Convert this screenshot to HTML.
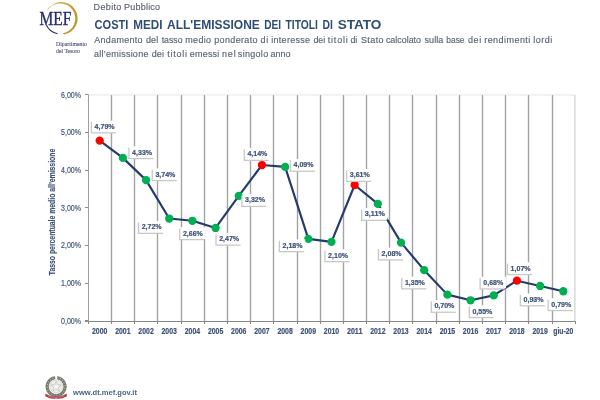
<!DOCTYPE html>
<html><head><meta charset="utf-8"><style>
html,body{margin:0;padding:0;background:#fff;width:600px;height:400px;overflow:hidden}
svg{display:block}
</style></head><body>
<svg width="600" height="400" viewBox="0 0 600 400">
<defs><filter id="bl" x="-20%" y="-20%" width="140%" height="140%"><feGaussianBlur stdDeviation="0.6"/></filter></defs>
<rect width="600" height="400" fill="#FFFFFF"/>
<g id="logo">
  <defs><linearGradient id="gg" x1="0" y1="0" x2="1" y2="1"><stop offset="0" stop-color="#D9C27A"/><stop offset="0.5" stop-color="#C39A2A"/><stop offset="1" stop-color="#B8922E"/></linearGradient></defs>
  <path d="M47.29 9.71 A16.4 16.4 0 1 1 64.05 34.55 L62.82 33.37 A15.1 15.1 0 1 0 47.39 10.50 Z" fill="url(#gg)"/>
  <path d="M46.15 24.53 A15.7 15.7 0 0 0 57.60 33.81" fill="none" stroke="#2C3170" stroke-width="1.1"/>
  <text x="39.6" y="24.8" font-family="Liberation Serif, serif" font-size="18.4" fill="#262C6E" stroke="#262C6E" stroke-width="0.35" textLength="31.8" lengthAdjust="spacingAndGlyphs">MEF</text>
  <text x="56" y="46.3" font-family="Liberation Serif, serif" font-size="5.4" fill="#4F5680" stroke="#4F5680" stroke-width="0.12" textLength="31" lengthAdjust="spacingAndGlyphs">Dipartimento</text>
  <text x="56" y="53.3" font-family="Liberation Serif, serif" font-size="5.4" fill="#4F5680" stroke="#4F5680" stroke-width="0.12" textLength="24" lengthAdjust="spacingAndGlyphs">del Tesoro</text>
</g>
<text x="93.56" y="10" font-family="Liberation Sans, sans-serif" font-size="9" fill="#5E6373" stroke="#5E6373" stroke-width="0.15" textLength="27.82" lengthAdjust="spacing">Debito</text>
<text x="124.06" y="10" font-family="Liberation Sans, sans-serif" font-size="9" fill="#5E6373" stroke="#5E6373" stroke-width="0.15" textLength="36.02" lengthAdjust="spacing">Pubblico</text>
<text x="94.55" y="28.5" font-family="Liberation Sans, sans-serif" font-weight="bold" font-size="12.4" fill="#2F4C76"  textLength="33.90" lengthAdjust="spacingAndGlyphs">COSTI</text>
<text x="133.22" y="28.5" font-family="Liberation Sans, sans-serif" font-weight="bold" font-size="12.4" fill="#2F4C76"  textLength="29.27" lengthAdjust="spacingAndGlyphs">MEDI</text>
<text x="167.00" y="28.5" font-family="Liberation Sans, sans-serif" font-weight="bold" font-size="12.4" fill="#2F4C76"  textLength="92.87" lengthAdjust="spacingAndGlyphs">ALL'EMISSIONE</text>
<text x="264.32" y="28.5" font-family="Liberation Sans, sans-serif" font-weight="bold" font-size="12.4" fill="#2F4C76"  textLength="16.85" lengthAdjust="spacingAndGlyphs">DEI</text>
<text x="285.48" y="28.5" font-family="Liberation Sans, sans-serif" font-weight="bold" font-size="12.4" fill="#2F4C76"  textLength="32.50" lengthAdjust="spacingAndGlyphs">TITOLI</text>
<text x="322.50" y="28.5" font-family="Liberation Sans, sans-serif" font-weight="bold" font-size="12.4" fill="#2F4C76"  textLength="10.39" lengthAdjust="spacingAndGlyphs">DI</text>
<text x="337.73" y="28.5" font-family="Liberation Sans, sans-serif" font-weight="bold" font-size="12.4" fill="#2F4C76"  textLength="43.71" lengthAdjust="spacingAndGlyphs">STATO</text>
<text x="94.28" y="42.9" font-family="Liberation Sans, sans-serif" font-size="9" fill="#5A6478" stroke="#5A6478" stroke-width="0.15" textLength="48.30" lengthAdjust="spacing">Andamento</text>
<text x="145.92" y="42.9" font-family="Liberation Sans, sans-serif" font-size="9" fill="#5A6478" stroke="#5A6478" stroke-width="0.15" textLength="12.38" lengthAdjust="spacing">del</text>
<text x="161.67" y="42.9" font-family="Liberation Sans, sans-serif" font-size="9" fill="#5A6478" stroke="#5A6478" stroke-width="0.15" textLength="20.90" lengthAdjust="spacingAndGlyphs">tasso</text>
<text x="185.20" y="42.9" font-family="Liberation Sans, sans-serif" font-size="9" fill="#5A6478" stroke="#5A6478" stroke-width="0.15" textLength="25.88" lengthAdjust="spacing">medio</text>
<text x="214.22" y="42.9" font-family="Liberation Sans, sans-serif" font-size="9" fill="#5A6478" stroke="#5A6478" stroke-width="0.15" textLength="43.36" lengthAdjust="spacing">ponderato</text>
<text x="260.42" y="42.9" font-family="Liberation Sans, sans-serif" font-size="9" fill="#5A6478" stroke="#5A6478" stroke-width="0.15" textLength="7.88" lengthAdjust="spacing">di</text>
<text x="271.20" y="42.9" font-family="Liberation Sans, sans-serif" font-size="9" fill="#5A6478" stroke="#5A6478" stroke-width="0.15" textLength="38.90" lengthAdjust="spacing">interesse</text>
<text x="313.43" y="42.9" font-family="Liberation Sans, sans-serif" font-size="9" fill="#5A6478" stroke="#5A6478" stroke-width="0.15" textLength="11.87" lengthAdjust="spacingAndGlyphs">dei</text>
<text x="327.66" y="42.9" font-family="Liberation Sans, sans-serif" font-size="9" fill="#5A6478" stroke="#5A6478" stroke-width="0.15" textLength="20.14" lengthAdjust="spacing">titoli</text>
<text x="350.43" y="42.9" font-family="Liberation Sans, sans-serif" font-size="9" fill="#5A6478" stroke="#5A6478" stroke-width="0.15" textLength="6.86" lengthAdjust="spacingAndGlyphs">di</text>
<text x="360.89" y="42.9" font-family="Liberation Sans, sans-serif" font-size="9" fill="#5A6478" stroke="#5A6478" stroke-width="0.15" textLength="22.69" lengthAdjust="spacing">Stato</text>
<text x="385.92" y="42.9" font-family="Liberation Sans, sans-serif" font-size="9" fill="#5A6478" stroke="#5A6478" stroke-width="0.15" textLength="35.15" lengthAdjust="spacingAndGlyphs">calcolato</text>
<text x="424.55" y="42.9" font-family="Liberation Sans, sans-serif" font-size="9" fill="#5A6478" stroke="#5A6478" stroke-width="0.15" textLength="18.65" lengthAdjust="spacing">sulla</text>
<text x="446.26" y="42.9" font-family="Liberation Sans, sans-serif" font-size="9" fill="#5A6478" stroke="#5A6478" stroke-width="0.15" textLength="18.32" lengthAdjust="spacingAndGlyphs">base</text>
<text x="467.92" y="42.9" font-family="Liberation Sans, sans-serif" font-size="9" fill="#5A6478" stroke="#5A6478" stroke-width="0.15" textLength="13.38" lengthAdjust="spacing">dei</text>
<text x="484.20" y="42.9" font-family="Liberation Sans, sans-serif" font-size="9" fill="#5A6478" stroke="#5A6478" stroke-width="0.15" textLength="46.10" lengthAdjust="spacing">rendimenti</text>
<text x="533.19" y="42.9" font-family="Liberation Sans, sans-serif" font-size="9" fill="#5A6478" stroke="#5A6478" stroke-width="0.15" textLength="19.11" lengthAdjust="spacing">lordi</text>
<text x="93.92" y="56.5" font-family="Liberation Sans, sans-serif" font-size="9" fill="#5A6478" stroke="#5A6478" stroke-width="0.15" textLength="54.48" lengthAdjust="spacing">all’emissione</text>
<text x="151.82" y="56.5" font-family="Liberation Sans, sans-serif" font-size="9" fill="#5A6478" stroke="#5A6478" stroke-width="0.15" textLength="12.08" lengthAdjust="spacing">dei</text>
<text x="167.36" y="56.5" font-family="Liberation Sans, sans-serif" font-size="9" fill="#5A6478" stroke="#5A6478" stroke-width="0.15" textLength="19.64" lengthAdjust="spacing">titoli</text>
<text x="189.82" y="56.5" font-family="Liberation Sans, sans-serif" font-size="9" fill="#5A6478" stroke="#5A6478" stroke-width="0.15" textLength="29.49" lengthAdjust="spacing">emessi</text>
<text x="222.00" y="56.5" font-family="Liberation Sans, sans-serif" font-size="9" fill="#5A6478" stroke="#5A6478" stroke-width="0.15" textLength="13.70" lengthAdjust="spacing">nel</text>
<text x="237.85" y="56.5" font-family="Liberation Sans, sans-serif" font-size="9" fill="#5A6478" stroke="#5A6478" stroke-width="0.15" textLength="30.33" lengthAdjust="spacing">singolo</text>
<text x="270.42" y="56.5" font-family="Liberation Sans, sans-serif" font-size="9" fill="#5A6478" stroke="#5A6478" stroke-width="0.15" textLength="20.16" lengthAdjust="spacing">anno</text>
<line x1="88.1" y1="94.98" x2="574.88" y2="94.98" stroke="#E6E6E6" stroke-width="1"/>
<line x1="574.88" y1="94.98" x2="574.88" y2="321.0" stroke="#D0D0D0" stroke-width="1.2"/>
<line x1="111.50" y1="94.98" x2="111.50" y2="321.0" stroke="#EDEDED" stroke-width="3"/>
<line x1="111.50" y1="94.98" x2="111.50" y2="321.0" stroke="#A3A3A3" stroke-width="1"/>
<line x1="134.50" y1="94.98" x2="134.50" y2="321.0" stroke="#EDEDED" stroke-width="3"/>
<line x1="134.50" y1="94.98" x2="134.50" y2="321.0" stroke="#A3A3A3" stroke-width="1"/>
<line x1="157.50" y1="94.98" x2="157.50" y2="321.0" stroke="#EDEDED" stroke-width="3"/>
<line x1="157.50" y1="94.98" x2="157.50" y2="321.0" stroke="#A3A3A3" stroke-width="1"/>
<line x1="181.50" y1="94.98" x2="181.50" y2="321.0" stroke="#EDEDED" stroke-width="3"/>
<line x1="181.50" y1="94.98" x2="181.50" y2="321.0" stroke="#A3A3A3" stroke-width="1"/>
<line x1="204.50" y1="94.98" x2="204.50" y2="321.0" stroke="#EDEDED" stroke-width="3"/>
<line x1="204.50" y1="94.98" x2="204.50" y2="321.0" stroke="#A3A3A3" stroke-width="1"/>
<line x1="227.50" y1="94.98" x2="227.50" y2="321.0" stroke="#EDEDED" stroke-width="3"/>
<line x1="227.50" y1="94.98" x2="227.50" y2="321.0" stroke="#A3A3A3" stroke-width="1"/>
<line x1="250.50" y1="94.98" x2="250.50" y2="321.0" stroke="#EDEDED" stroke-width="3"/>
<line x1="250.50" y1="94.98" x2="250.50" y2="321.0" stroke="#A3A3A3" stroke-width="1"/>
<line x1="273.50" y1="94.98" x2="273.50" y2="321.0" stroke="#EDEDED" stroke-width="3"/>
<line x1="273.50" y1="94.98" x2="273.50" y2="321.0" stroke="#A3A3A3" stroke-width="1"/>
<line x1="297.50" y1="94.98" x2="297.50" y2="321.0" stroke="#EDEDED" stroke-width="3"/>
<line x1="297.50" y1="94.98" x2="297.50" y2="321.0" stroke="#A3A3A3" stroke-width="1"/>
<line x1="320.50" y1="94.98" x2="320.50" y2="321.0" stroke="#EDEDED" stroke-width="3"/>
<line x1="320.50" y1="94.98" x2="320.50" y2="321.0" stroke="#A3A3A3" stroke-width="1"/>
<line x1="343.50" y1="94.98" x2="343.50" y2="321.0" stroke="#EDEDED" stroke-width="3"/>
<line x1="343.50" y1="94.98" x2="343.50" y2="321.0" stroke="#A3A3A3" stroke-width="1"/>
<line x1="366.50" y1="94.98" x2="366.50" y2="321.0" stroke="#EDEDED" stroke-width="3"/>
<line x1="366.50" y1="94.98" x2="366.50" y2="321.0" stroke="#A3A3A3" stroke-width="1"/>
<line x1="389.50" y1="94.98" x2="389.50" y2="321.0" stroke="#EDEDED" stroke-width="3"/>
<line x1="389.50" y1="94.98" x2="389.50" y2="321.0" stroke="#A3A3A3" stroke-width="1"/>
<line x1="412.50" y1="94.98" x2="412.50" y2="321.0" stroke="#EDEDED" stroke-width="3"/>
<line x1="412.50" y1="94.98" x2="412.50" y2="321.0" stroke="#A3A3A3" stroke-width="1"/>
<line x1="436.50" y1="94.98" x2="436.50" y2="321.0" stroke="#EDEDED" stroke-width="3"/>
<line x1="436.50" y1="94.98" x2="436.50" y2="321.0" stroke="#A3A3A3" stroke-width="1"/>
<line x1="459.50" y1="94.98" x2="459.50" y2="321.0" stroke="#EDEDED" stroke-width="3"/>
<line x1="459.50" y1="94.98" x2="459.50" y2="321.0" stroke="#A3A3A3" stroke-width="1"/>
<line x1="482.50" y1="94.98" x2="482.50" y2="321.0" stroke="#EDEDED" stroke-width="3"/>
<line x1="482.50" y1="94.98" x2="482.50" y2="321.0" stroke="#A3A3A3" stroke-width="1"/>
<line x1="505.50" y1="94.98" x2="505.50" y2="321.0" stroke="#EDEDED" stroke-width="3"/>
<line x1="505.50" y1="94.98" x2="505.50" y2="321.0" stroke="#A3A3A3" stroke-width="1"/>
<line x1="528.50" y1="94.98" x2="528.50" y2="321.0" stroke="#EDEDED" stroke-width="3"/>
<line x1="528.50" y1="94.98" x2="528.50" y2="321.0" stroke="#A3A3A3" stroke-width="1"/>
<line x1="552.50" y1="94.98" x2="552.50" y2="321.0" stroke="#EDEDED" stroke-width="3"/>
<line x1="552.50" y1="94.98" x2="552.50" y2="321.0" stroke="#A3A3A3" stroke-width="1"/>
<line x1="88.5" y1="94.98" x2="88.5" y2="321.5" stroke="#A0A0A0" stroke-width="1"/>
<line x1="85" y1="321.5" x2="574.88" y2="321.5" stroke="#878787" stroke-width="1"/>
<line x1="85" y1="320.50" x2="88.5" y2="320.50" stroke="#8C8C8C" stroke-width="1"/>
<text x="81" y="323.60" text-anchor="end" font-family="Liberation Sans, sans-serif" font-size="8.2" fill="#3E5277" stroke="#3E5277" stroke-width="0.15" textLength="20" lengthAdjust="spacingAndGlyphs">0,00%</text>
<line x1="85" y1="283.50" x2="88.5" y2="283.50" stroke="#8C8C8C" stroke-width="1"/>
<text x="81" y="285.93" text-anchor="end" font-family="Liberation Sans, sans-serif" font-size="8.2" fill="#3E5277" stroke="#3E5277" stroke-width="0.15" textLength="20" lengthAdjust="spacingAndGlyphs">1,00%</text>
<line x1="85" y1="245.50" x2="88.5" y2="245.50" stroke="#8C8C8C" stroke-width="1"/>
<text x="81" y="248.26" text-anchor="end" font-family="Liberation Sans, sans-serif" font-size="8.2" fill="#3E5277" stroke="#3E5277" stroke-width="0.15" textLength="20" lengthAdjust="spacingAndGlyphs">2,00%</text>
<line x1="85" y1="207.50" x2="88.5" y2="207.50" stroke="#8C8C8C" stroke-width="1"/>
<text x="81" y="210.59" text-anchor="end" font-family="Liberation Sans, sans-serif" font-size="8.2" fill="#3E5277" stroke="#3E5277" stroke-width="0.15" textLength="20" lengthAdjust="spacingAndGlyphs">3,00%</text>
<line x1="85" y1="170.50" x2="88.5" y2="170.50" stroke="#8C8C8C" stroke-width="1"/>
<text x="81" y="172.92" text-anchor="end" font-family="Liberation Sans, sans-serif" font-size="8.2" fill="#3E5277" stroke="#3E5277" stroke-width="0.15" textLength="20" lengthAdjust="spacingAndGlyphs">4,00%</text>
<line x1="85" y1="132.50" x2="88.5" y2="132.50" stroke="#8C8C8C" stroke-width="1"/>
<text x="81" y="135.25" text-anchor="end" font-family="Liberation Sans, sans-serif" font-size="8.2" fill="#3E5277" stroke="#3E5277" stroke-width="0.15" textLength="20" lengthAdjust="spacingAndGlyphs">5,00%</text>
<line x1="85" y1="94.50" x2="88.5" y2="94.50" stroke="#8C8C8C" stroke-width="1"/>
<text x="81" y="97.58" text-anchor="end" font-family="Liberation Sans, sans-serif" font-size="8.2" fill="#3E5277" stroke="#3E5277" stroke-width="0.15" textLength="20" lengthAdjust="spacingAndGlyphs">6,00%</text>
<line x1="88.50" y1="321" x2="88.50" y2="324" stroke="#878787" stroke-width="1"/>
<line x1="111.50" y1="321" x2="111.50" y2="324" stroke="#878787" stroke-width="1"/>
<line x1="134.50" y1="321" x2="134.50" y2="324" stroke="#878787" stroke-width="1"/>
<line x1="157.50" y1="321" x2="157.50" y2="324" stroke="#878787" stroke-width="1"/>
<line x1="181.50" y1="321" x2="181.50" y2="324" stroke="#878787" stroke-width="1"/>
<line x1="204.50" y1="321" x2="204.50" y2="324" stroke="#878787" stroke-width="1"/>
<line x1="227.50" y1="321" x2="227.50" y2="324" stroke="#878787" stroke-width="1"/>
<line x1="250.50" y1="321" x2="250.50" y2="324" stroke="#878787" stroke-width="1"/>
<line x1="273.50" y1="321" x2="273.50" y2="324" stroke="#878787" stroke-width="1"/>
<line x1="297.50" y1="321" x2="297.50" y2="324" stroke="#878787" stroke-width="1"/>
<line x1="320.50" y1="321" x2="320.50" y2="324" stroke="#878787" stroke-width="1"/>
<line x1="343.50" y1="321" x2="343.50" y2="324" stroke="#878787" stroke-width="1"/>
<line x1="366.50" y1="321" x2="366.50" y2="324" stroke="#878787" stroke-width="1"/>
<line x1="389.50" y1="321" x2="389.50" y2="324" stroke="#878787" stroke-width="1"/>
<line x1="412.50" y1="321" x2="412.50" y2="324" stroke="#878787" stroke-width="1"/>
<line x1="436.50" y1="321" x2="436.50" y2="324" stroke="#878787" stroke-width="1"/>
<line x1="459.50" y1="321" x2="459.50" y2="324" stroke="#878787" stroke-width="1"/>
<line x1="482.50" y1="321" x2="482.50" y2="324" stroke="#878787" stroke-width="1"/>
<line x1="505.50" y1="321" x2="505.50" y2="324" stroke="#878787" stroke-width="1"/>
<line x1="528.50" y1="321" x2="528.50" y2="324" stroke="#878787" stroke-width="1"/>
<line x1="552.50" y1="321" x2="552.50" y2="324" stroke="#878787" stroke-width="1"/>
<line x1="575.50" y1="321" x2="575.50" y2="324" stroke="#878787" stroke-width="1"/>
<text x="99.69" y="333.9" text-anchor="middle" font-family="Liberation Sans, sans-serif" font-weight="bold" font-size="8.3" fill="#3E5277" stroke="#3E5277" stroke-width="0.18" textLength="15.4" lengthAdjust="spacingAndGlyphs">2000</text>
<text x="122.87" y="333.9" text-anchor="middle" font-family="Liberation Sans, sans-serif" font-weight="bold" font-size="8.3" fill="#3E5277" stroke="#3E5277" stroke-width="0.18" textLength="15.4" lengthAdjust="spacingAndGlyphs">2001</text>
<text x="146.05" y="333.9" text-anchor="middle" font-family="Liberation Sans, sans-serif" font-weight="bold" font-size="8.3" fill="#3E5277" stroke="#3E5277" stroke-width="0.18" textLength="15.4" lengthAdjust="spacingAndGlyphs">2002</text>
<text x="169.23" y="333.9" text-anchor="middle" font-family="Liberation Sans, sans-serif" font-weight="bold" font-size="8.3" fill="#3E5277" stroke="#3E5277" stroke-width="0.18" textLength="15.4" lengthAdjust="spacingAndGlyphs">2003</text>
<text x="192.41" y="333.9" text-anchor="middle" font-family="Liberation Sans, sans-serif" font-weight="bold" font-size="8.3" fill="#3E5277" stroke="#3E5277" stroke-width="0.18" textLength="15.4" lengthAdjust="spacingAndGlyphs">2004</text>
<text x="215.59" y="333.9" text-anchor="middle" font-family="Liberation Sans, sans-serif" font-weight="bold" font-size="8.3" fill="#3E5277" stroke="#3E5277" stroke-width="0.18" textLength="15.4" lengthAdjust="spacingAndGlyphs">2005</text>
<text x="238.77" y="333.9" text-anchor="middle" font-family="Liberation Sans, sans-serif" font-weight="bold" font-size="8.3" fill="#3E5277" stroke="#3E5277" stroke-width="0.18" textLength="15.4" lengthAdjust="spacingAndGlyphs">2006</text>
<text x="261.95" y="333.9" text-anchor="middle" font-family="Liberation Sans, sans-serif" font-weight="bold" font-size="8.3" fill="#3E5277" stroke="#3E5277" stroke-width="0.18" textLength="15.4" lengthAdjust="spacingAndGlyphs">2007</text>
<text x="285.13" y="333.9" text-anchor="middle" font-family="Liberation Sans, sans-serif" font-weight="bold" font-size="8.3" fill="#3E5277" stroke="#3E5277" stroke-width="0.18" textLength="15.4" lengthAdjust="spacingAndGlyphs">2008</text>
<text x="308.31" y="333.9" text-anchor="middle" font-family="Liberation Sans, sans-serif" font-weight="bold" font-size="8.3" fill="#3E5277" stroke="#3E5277" stroke-width="0.18" textLength="15.4" lengthAdjust="spacingAndGlyphs">2009</text>
<text x="331.49" y="333.9" text-anchor="middle" font-family="Liberation Sans, sans-serif" font-weight="bold" font-size="8.3" fill="#3E5277" stroke="#3E5277" stroke-width="0.18" textLength="15.4" lengthAdjust="spacingAndGlyphs">2010</text>
<text x="354.67" y="333.9" text-anchor="middle" font-family="Liberation Sans, sans-serif" font-weight="bold" font-size="8.3" fill="#3E5277" stroke="#3E5277" stroke-width="0.18" textLength="15.4" lengthAdjust="spacingAndGlyphs">2011</text>
<text x="377.85" y="333.9" text-anchor="middle" font-family="Liberation Sans, sans-serif" font-weight="bold" font-size="8.3" fill="#3E5277" stroke="#3E5277" stroke-width="0.18" textLength="15.4" lengthAdjust="spacingAndGlyphs">2012</text>
<text x="401.03" y="333.9" text-anchor="middle" font-family="Liberation Sans, sans-serif" font-weight="bold" font-size="8.3" fill="#3E5277" stroke="#3E5277" stroke-width="0.18" textLength="15.4" lengthAdjust="spacingAndGlyphs">2013</text>
<text x="424.21" y="333.9" text-anchor="middle" font-family="Liberation Sans, sans-serif" font-weight="bold" font-size="8.3" fill="#3E5277" stroke="#3E5277" stroke-width="0.18" textLength="15.4" lengthAdjust="spacingAndGlyphs">2014</text>
<text x="447.39" y="333.9" text-anchor="middle" font-family="Liberation Sans, sans-serif" font-weight="bold" font-size="8.3" fill="#3E5277" stroke="#3E5277" stroke-width="0.18" textLength="15.4" lengthAdjust="spacingAndGlyphs">2015</text>
<text x="470.57" y="333.9" text-anchor="middle" font-family="Liberation Sans, sans-serif" font-weight="bold" font-size="8.3" fill="#3E5277" stroke="#3E5277" stroke-width="0.18" textLength="15.4" lengthAdjust="spacingAndGlyphs">2016</text>
<text x="493.75" y="333.9" text-anchor="middle" font-family="Liberation Sans, sans-serif" font-weight="bold" font-size="8.3" fill="#3E5277" stroke="#3E5277" stroke-width="0.18" textLength="15.4" lengthAdjust="spacingAndGlyphs">2017</text>
<text x="516.93" y="333.9" text-anchor="middle" font-family="Liberation Sans, sans-serif" font-weight="bold" font-size="8.3" fill="#3E5277" stroke="#3E5277" stroke-width="0.18" textLength="15.4" lengthAdjust="spacingAndGlyphs">2018</text>
<text x="540.11" y="333.9" text-anchor="middle" font-family="Liberation Sans, sans-serif" font-weight="bold" font-size="8.3" fill="#3E5277" stroke="#3E5277" stroke-width="0.18" textLength="15.4" lengthAdjust="spacingAndGlyphs">2019</text>
<text x="563.29" y="333.9" text-anchor="middle" font-family="Liberation Sans, sans-serif" font-weight="bold" font-size="8.3" fill="#3E5277" stroke="#3E5277" stroke-width="0.18" textLength="20" lengthAdjust="spacingAndGlyphs">giu-20</text>
<text transform="translate(55 212) rotate(-90)" text-anchor="middle" font-family="Liberation Sans, sans-serif" font-weight="bold" font-size="8.6" fill="#3E5277" stroke="#3E5277" stroke-width="0.15" textLength="126.5" lengthAdjust="spacingAndGlyphs">Tasso percentuale medio all’emissione</text>
<polyline points="99.69,140.56 122.87,157.89 146.05,180.11 169.23,218.54 192.41,220.80 215.59,227.96 238.77,195.94 261.95,165.05 285.13,166.93 308.31,238.88 331.49,241.89 354.67,185.01 377.85,203.85 401.03,242.65 424.21,270.15 447.39,294.63 470.57,300.28 493.75,295.38 516.93,280.69 540.11,285.97 563.29,291.24" fill="none" stroke="#243B6C" stroke-width="2.15" stroke-linejoin="round"/>
<circle cx="99.69" cy="140.56" r="4.15" fill="#FF0000"/>
<circle cx="122.87" cy="157.89" r="4.15" fill="#00B050"/>
<circle cx="146.05" cy="180.11" r="4.15" fill="#00B050"/>
<circle cx="169.23" cy="218.54" r="4.15" fill="#00B050"/>
<circle cx="192.41" cy="220.80" r="4.15" fill="#00B050"/>
<circle cx="215.59" cy="227.96" r="4.15" fill="#00B050"/>
<circle cx="238.77" cy="195.94" r="4.15" fill="#00B050"/>
<circle cx="261.95" cy="165.05" r="4.15" fill="#FF0000"/>
<circle cx="285.13" cy="166.93" r="4.15" fill="#00B050"/>
<circle cx="308.31" cy="238.88" r="4.15" fill="#00B050"/>
<circle cx="331.49" cy="241.89" r="4.15" fill="#00B050"/>
<circle cx="354.67" cy="185.01" r="4.15" fill="#FF0000"/>
<circle cx="377.85" cy="203.85" r="4.15" fill="#00B050"/>
<circle cx="401.03" cy="242.65" r="4.15" fill="#00B050"/>
<circle cx="424.21" cy="270.15" r="4.15" fill="#00B050"/>
<circle cx="447.39" cy="294.63" r="4.15" fill="#00B050"/>
<circle cx="470.57" cy="300.28" r="4.15" fill="#00B050"/>
<circle cx="493.75" cy="295.38" r="4.15" fill="#00B050"/>
<circle cx="516.93" cy="280.69" r="4.15" fill="#FF0000"/>
<circle cx="540.11" cy="285.97" r="4.15" fill="#00B050"/>
<circle cx="563.29" cy="291.24" r="4.15" fill="#00B050"/>
<rect x="90.80" y="121.90" width="25.2" height="11.6" fill="#C8C8C8" filter="url(#bl)"/>
<rect x="92.10" y="120.60" width="25.2" height="11.6" fill="#FFFFFF"/>
<text x="104.60" y="128.85" text-anchor="middle" font-family="Liberation Sans, sans-serif" font-weight="bold" font-size="8.1" fill="#3E5277" stroke="#3E5277" stroke-width="0.22" textLength="20" lengthAdjust="spacingAndGlyphs">4,79%</text>
<rect x="128.30" y="147.60" width="25.2" height="11.6" fill="#C8C8C8" filter="url(#bl)"/>
<rect x="129.60" y="146.30" width="25.2" height="11.6" fill="#FFFFFF"/>
<text x="142.10" y="154.55" text-anchor="middle" font-family="Liberation Sans, sans-serif" font-weight="bold" font-size="8.1" fill="#3E5277" stroke="#3E5277" stroke-width="0.22" textLength="20" lengthAdjust="spacingAndGlyphs">4,33%</text>
<rect x="151.60" y="169.65" width="25.2" height="11.6" fill="#C8C8C8" filter="url(#bl)"/>
<rect x="152.90" y="168.35" width="25.2" height="11.6" fill="#FFFFFF"/>
<text x="165.40" y="176.60" text-anchor="middle" font-family="Liberation Sans, sans-serif" font-weight="bold" font-size="8.1" fill="#3E5277" stroke="#3E5277" stroke-width="0.22" textLength="20" lengthAdjust="spacingAndGlyphs">3,74%</text>
<rect x="137.85" y="222.40" width="25.2" height="11.6" fill="#C8C8C8" filter="url(#bl)"/>
<rect x="139.15" y="221.10" width="25.2" height="11.6" fill="#FFFFFF"/>
<text x="151.65" y="229.35" text-anchor="middle" font-family="Liberation Sans, sans-serif" font-weight="bold" font-size="8.1" fill="#3E5277" stroke="#3E5277" stroke-width="0.22" textLength="20" lengthAdjust="spacingAndGlyphs">2,72%</text>
<rect x="179.10" y="228.65" width="25.2" height="11.6" fill="#C8C8C8" filter="url(#bl)"/>
<rect x="180.40" y="227.35" width="25.2" height="11.6" fill="#FFFFFF"/>
<text x="192.90" y="235.60" text-anchor="middle" font-family="Liberation Sans, sans-serif" font-weight="bold" font-size="8.1" fill="#3E5277" stroke="#3E5277" stroke-width="0.22" textLength="20" lengthAdjust="spacingAndGlyphs">2,66%</text>
<rect x="215.35" y="234.15" width="25.2" height="11.6" fill="#C8C8C8" filter="url(#bl)"/>
<rect x="216.65" y="232.85" width="25.2" height="11.6" fill="#FFFFFF"/>
<text x="229.15" y="241.10" text-anchor="middle" font-family="Liberation Sans, sans-serif" font-weight="bold" font-size="8.1" fill="#3E5277" stroke="#3E5277" stroke-width="0.22" textLength="20" lengthAdjust="spacingAndGlyphs">2,47%</text>
<rect x="241.20" y="195.40" width="25.2" height="11.6" fill="#C8C8C8" filter="url(#bl)"/>
<rect x="242.50" y="194.10" width="25.2" height="11.6" fill="#FFFFFF"/>
<text x="255.00" y="202.35" text-anchor="middle" font-family="Liberation Sans, sans-serif" font-weight="bold" font-size="8.1" fill="#3E5277" stroke="#3E5277" stroke-width="0.22" textLength="20" lengthAdjust="spacingAndGlyphs">3,32%</text>
<rect x="243.60" y="149.40" width="25.2" height="11.6" fill="#C8C8C8" filter="url(#bl)"/>
<rect x="244.90" y="148.10" width="25.2" height="11.6" fill="#FFFFFF"/>
<text x="257.40" y="156.35" text-anchor="middle" font-family="Liberation Sans, sans-serif" font-weight="bold" font-size="8.1" fill="#3E5277" stroke="#3E5277" stroke-width="0.22" textLength="20" lengthAdjust="spacingAndGlyphs">4,14%</text>
<rect x="289.70" y="160.30" width="25.2" height="11.6" fill="#C8C8C8" filter="url(#bl)"/>
<rect x="291.00" y="159.00" width="25.2" height="11.6" fill="#FFFFFF"/>
<text x="303.50" y="167.25" text-anchor="middle" font-family="Liberation Sans, sans-serif" font-weight="bold" font-size="8.1" fill="#3E5277" stroke="#3E5277" stroke-width="0.22" textLength="20" lengthAdjust="spacingAndGlyphs">4,09%</text>
<rect x="278.70" y="240.70" width="25.2" height="11.6" fill="#C8C8C8" filter="url(#bl)"/>
<rect x="280.00" y="239.40" width="25.2" height="11.6" fill="#FFFFFF"/>
<text x="292.50" y="247.65" text-anchor="middle" font-family="Liberation Sans, sans-serif" font-weight="bold" font-size="8.1" fill="#3E5277" stroke="#3E5277" stroke-width="0.22" textLength="20" lengthAdjust="spacingAndGlyphs">2,18%</text>
<rect x="324.30" y="250.70" width="25.2" height="11.6" fill="#C8C8C8" filter="url(#bl)"/>
<rect x="325.60" y="249.40" width="25.2" height="11.6" fill="#FFFFFF"/>
<text x="338.10" y="257.65" text-anchor="middle" font-family="Liberation Sans, sans-serif" font-weight="bold" font-size="8.1" fill="#3E5277" stroke="#3E5277" stroke-width="0.22" textLength="20" lengthAdjust="spacingAndGlyphs">2,10%</text>
<rect x="346.00" y="170.40" width="25.2" height="11.6" fill="#C8C8C8" filter="url(#bl)"/>
<rect x="347.30" y="169.10" width="25.2" height="11.6" fill="#FFFFFF"/>
<text x="359.80" y="177.35" text-anchor="middle" font-family="Liberation Sans, sans-serif" font-weight="bold" font-size="8.1" fill="#3E5277" stroke="#3E5277" stroke-width="0.22" textLength="20" lengthAdjust="spacingAndGlyphs">3,61%</text>
<rect x="361.00" y="209.40" width="25.2" height="11.6" fill="#C8C8C8" filter="url(#bl)"/>
<rect x="362.30" y="208.10" width="25.2" height="11.6" fill="#FFFFFF"/>
<text x="374.80" y="216.35" text-anchor="middle" font-family="Liberation Sans, sans-serif" font-weight="bold" font-size="8.1" fill="#3E5277" stroke="#3E5277" stroke-width="0.22" textLength="20" lengthAdjust="spacingAndGlyphs">3,11%</text>
<rect x="377.80" y="249.00" width="25.2" height="11.6" fill="#C8C8C8" filter="url(#bl)"/>
<rect x="379.10" y="247.70" width="25.2" height="11.6" fill="#FFFFFF"/>
<text x="391.60" y="255.95" text-anchor="middle" font-family="Liberation Sans, sans-serif" font-weight="bold" font-size="8.1" fill="#3E5277" stroke="#3E5277" stroke-width="0.22" textLength="20" lengthAdjust="spacingAndGlyphs">2,08%</text>
<rect x="401.10" y="277.90" width="25.2" height="11.6" fill="#C8C8C8" filter="url(#bl)"/>
<rect x="402.40" y="276.60" width="25.2" height="11.6" fill="#FFFFFF"/>
<text x="414.90" y="284.85" text-anchor="middle" font-family="Liberation Sans, sans-serif" font-weight="bold" font-size="8.1" fill="#3E5277" stroke="#3E5277" stroke-width="0.22" textLength="20" lengthAdjust="spacingAndGlyphs">1,35%</text>
<rect x="430.60" y="301.30" width="25.2" height="11.6" fill="#C8C8C8" filter="url(#bl)"/>
<rect x="431.90" y="300.00" width="25.2" height="11.6" fill="#FFFFFF"/>
<text x="444.40" y="308.25" text-anchor="middle" font-family="Liberation Sans, sans-serif" font-weight="bold" font-size="8.1" fill="#3E5277" stroke="#3E5277" stroke-width="0.22" textLength="20" lengthAdjust="spacingAndGlyphs">0,70%</text>
<rect x="468.60" y="306.60" width="25.2" height="11.6" fill="#C8C8C8" filter="url(#bl)"/>
<rect x="469.90" y="305.30" width="25.2" height="11.6" fill="#FFFFFF"/>
<text x="482.40" y="313.55" text-anchor="middle" font-family="Liberation Sans, sans-serif" font-weight="bold" font-size="8.1" fill="#3E5277" stroke="#3E5277" stroke-width="0.22" textLength="20" lengthAdjust="spacingAndGlyphs">0,55%</text>
<rect x="479.50" y="278.00" width="25.2" height="11.6" fill="#C8C8C8" filter="url(#bl)"/>
<rect x="480.80" y="276.70" width="25.2" height="11.6" fill="#FFFFFF"/>
<text x="493.30" y="284.95" text-anchor="middle" font-family="Liberation Sans, sans-serif" font-weight="bold" font-size="8.1" fill="#3E5277" stroke="#3E5277" stroke-width="0.22" textLength="20" lengthAdjust="spacingAndGlyphs">0,68%</text>
<rect x="506.80" y="263.60" width="25.2" height="11.6" fill="#C8C8C8" filter="url(#bl)"/>
<rect x="508.10" y="262.30" width="25.2" height="11.6" fill="#FFFFFF"/>
<text x="520.60" y="270.55" text-anchor="middle" font-family="Liberation Sans, sans-serif" font-weight="bold" font-size="8.1" fill="#3E5277" stroke="#3E5277" stroke-width="0.22" textLength="20" lengthAdjust="spacingAndGlyphs">1,07%</text>
<rect x="519.70" y="294.80" width="25.2" height="11.6" fill="#C8C8C8" filter="url(#bl)"/>
<rect x="521.00" y="293.50" width="25.2" height="11.6" fill="#FFFFFF"/>
<text x="533.50" y="301.75" text-anchor="middle" font-family="Liberation Sans, sans-serif" font-weight="bold" font-size="8.1" fill="#3E5277" stroke="#3E5277" stroke-width="0.22" textLength="20" lengthAdjust="spacingAndGlyphs">0,93%</text>
<rect x="547.50" y="299.60" width="25.2" height="11.6" fill="#C8C8C8" filter="url(#bl)"/>
<rect x="548.80" y="298.30" width="25.2" height="11.6" fill="#FFFFFF"/>
<text x="561.30" y="306.55" text-anchor="middle" font-family="Liberation Sans, sans-serif" font-weight="bold" font-size="8.1" fill="#3E5277" stroke="#3E5277" stroke-width="0.22" textLength="20" lengthAdjust="spacingAndGlyphs">0,79%</text>
<g id="emblem">
  <path d="M57.03 377.75 A8.9 8.9 0 1 1 55.17 377.75" fill="none" stroke="#737868" stroke-width="3.2"/>
  <path d="M57.03 377.75 A8.9 8.9 0 1 1 55.17 377.75" fill="none" stroke="#A9AD9F" stroke-width="1.4" stroke-dasharray="1.3 1.5"/>
  <circle cx="56.1" cy="386.3" r="6.9" fill="#EEEBEB"/>
  <circle cx="56.1" cy="386.3" r="6.2" fill="none" stroke="#C9C3C5" stroke-width="0.9" stroke-dasharray="0.9 0.9"/>
  <polygon points="56.1,381.2 57.4,384.9 61.3,384.9 58.2,387.3 59.3,391 56.1,388.7 52.9,391 54,387.3 50.9,384.9 54.8,384.9" fill="#F7F5F5" stroke="#B3ADAF" stroke-width="0.5"/>
  <path d="M45.4 393.6 Q50.5 397.0 56.1 396.4 Q61.7 397.0 66.8 393.6 L66.9 396.2 Q61.7 399.6 56.1 398.6 Q50.5 399.6 45.3 396.2 Z" fill="#B03C4C"/><path d="M48 396.4 Q56.1 398.6 64.2 396.4" fill="none" stroke="#D98A94" stroke-width="0.6"/>
</g>
<text x="73" y="394.7" font-family="Liberation Sans, sans-serif" font-weight="bold" font-size="7.4" fill="#4B6489" textLength="64" lengthAdjust="spacingAndGlyphs">www.dt.mef.gov.it</text>
</svg>
</body></html>
